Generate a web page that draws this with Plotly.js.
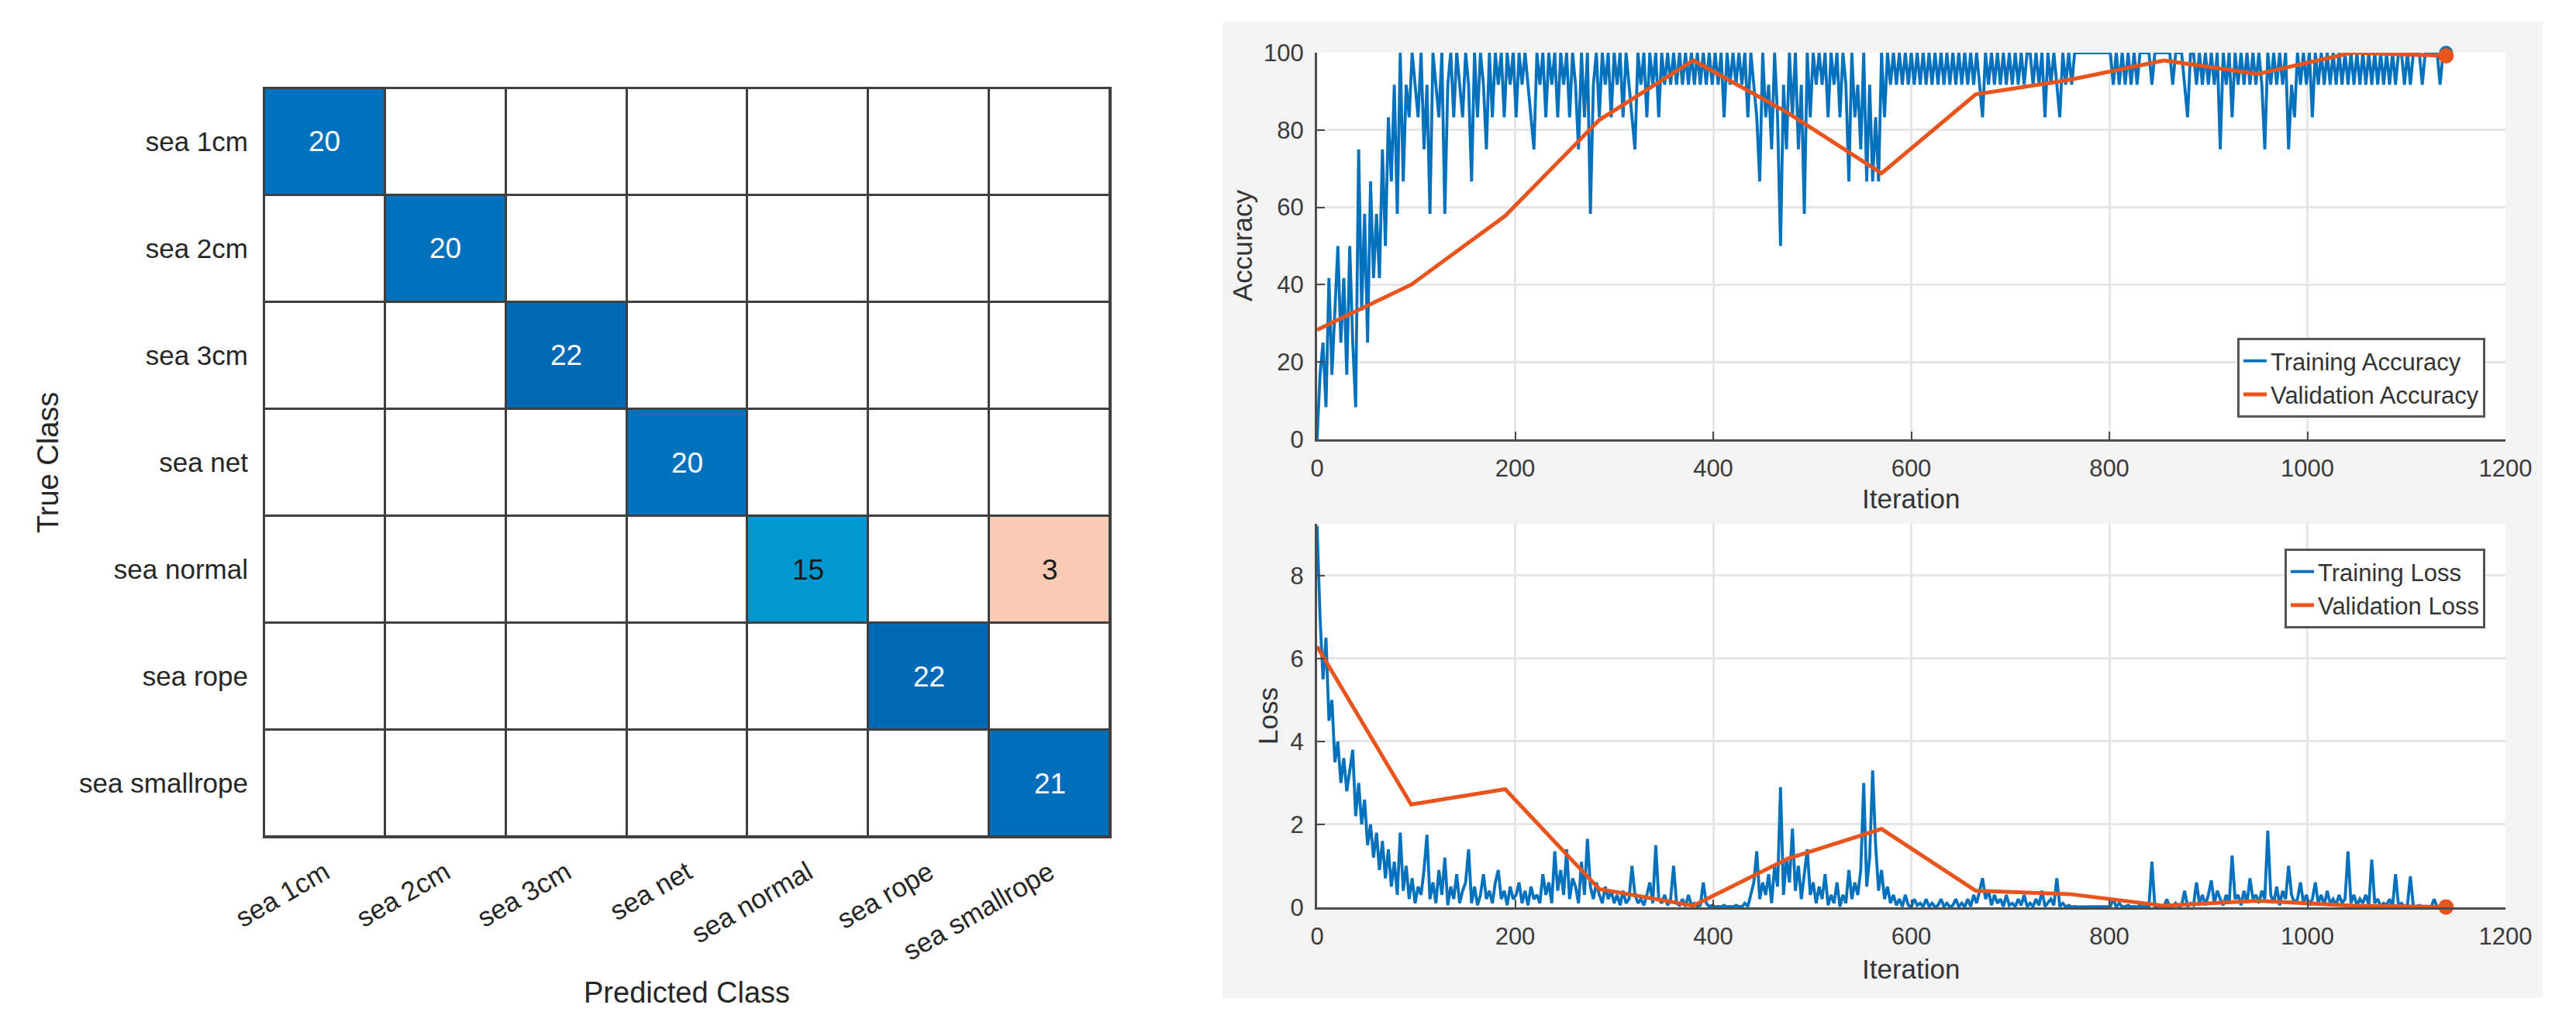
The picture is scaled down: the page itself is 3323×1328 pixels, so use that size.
<!DOCTYPE html>
<html>
<head>
<meta charset="utf-8">
<script src="https://cdn.plot.ly/plotly-3.0.1.min.js"></script>
<style>
  html, body { margin: 0; padding: 0; background: #ffffff; }
  #chart { width: 3323px; height: 1328px; }
</style>
</head>
<body>
<div id="chart"></div>
<script>
// ---------------- DATA ----------------
const classes = ['sea 1cm', 'sea 2cm', 'sea 3cm', 'sea net', 'sea normal', 'sea rope', 'sea smallrope'];
const confusionCounts = [
  [20, 0, 0, 0, 0, 0, 0],
  [0, 20, 0, 0, 0, 0, 0],
  [0, 0, 22, 0, 0, 0, 0],
  [0, 0, 0, 20, 0, 0, 0],
  [0, 0, 0, 0, 15, 0, 3],
  [0, 0, 0, 0, 0, 22, 0],
  [0, 0, 0, 0, 0, 0, 21]
];

// training metrics sampled every 3 iterations (0 ... 1140)
const trainIterStep = 3;
const trainAccuracy = [
  0, 16.7, 25, 8.3, 41.7, 16.7, 33.3, 50, 25, 41.7, 16.7, 50, 25, 8.3, 75, 33.3, 58.3, 25, 66.7, 41.7,
  58.3, 41.7, 75, 50, 83.3, 66.7, 91.7, 58.3, 100, 66.7, 91.7, 83.3, 100, 91.7, 83.3, 100, 75, 91.7, 58.3, 100,
  91.7, 83.3, 100, 58.3, 91.7, 100, 83.3, 100, 91.7, 83.3, 100, 91.7, 66.7, 100, 83.3, 100, 91.7, 75, 100, 83.3,
  100, 91.7, 100, 83.3, 100, 91.7, 100, 83.3, 100, 91.7, 100, 91.7, 83.3, 75, 100, 91.7, 100, 83.3, 100, 91.7,
  100, 83.3, 100, 91.7, 100, 83.3, 100, 91.7, 75, 100, 83.3, 100, 58.3, 91.7, 100, 83.3, 100, 91.7, 100, 83.3,
  100, 91.7, 100, 83.3, 100, 91.7, 83.3, 75, 100, 91.7, 100, 83.3, 100, 91.7, 100, 83.3, 100, 91.7, 100, 91.7,
  100, 91.7, 100, 91.7, 100, 91.7, 100, 91.7, 100, 91.7, 100, 91.7, 100, 91.7, 100, 91.7, 100, 83.3, 100, 91.7,
  100, 91.7, 100, 91.7, 100, 83.3, 100, 91.7, 83.3, 66.7, 100, 83.3, 91.7, 75, 100, 83.3, 50, 91.7, 75, 100,
  83.3, 100, 75, 91.7, 58.3, 100, 83.3, 100, 91.7, 100, 91.7, 100, 83.3, 100, 91.7, 100, 83.3, 100, 91.7, 66.7,
  100, 83.3, 91.7, 75, 100, 66.7, 91.7, 66.7, 83.3, 66.7, 100, 83.3, 100, 91.7, 100, 91.7, 100, 91.7, 100, 91.7,
  100, 91.7, 100, 91.7, 100, 91.7, 100, 91.7, 100, 91.7, 100, 91.7, 100, 91.7, 100, 91.7, 100, 91.7, 100, 91.7,
  100, 91.7, 100, 91.7, 83.3, 100, 91.7, 100, 91.7, 100, 91.7, 100, 91.7, 100, 91.7, 100, 91.7, 100, 91.7, 100,
  100, 91.7, 100, 91.7, 100, 83.3, 100, 91.7, 100, 91.7, 83.3, 100, 91.7, 100, 91.7, 100, 100, 100, 100, 100,
  100, 100, 100, 100, 100, 100, 100, 100, 91.7, 100, 91.7, 100, 91.7, 100, 91.7, 100, 91.7, 100, 100, 100,
  100, 91.7, 100, 100, 100, 100, 100, 100, 91.7, 100, 100, 100, 91.7, 83.3, 100, 100, 91.7, 100, 91.7, 100,
  91.7, 100, 91.7, 100, 75, 100, 91.7, 100, 83.3, 100, 91.7, 100, 91.7, 100, 91.7, 100, 91.7, 100, 91.7, 75,
  100, 91.7, 100, 91.7, 100, 91.7, 100, 75, 91.7, 83.3, 100, 91.7, 100, 91.7, 100, 83.3, 100, 91.7, 100, 91.7,
  100, 91.7, 100, 91.7, 100, 91.7, 100, 91.7, 100, 91.7, 100, 91.7, 100, 91.7, 100, 91.7, 100, 91.7, 100, 91.7,
  100, 91.7, 100, 91.7, 100, 100, 91.7, 100, 91.7, 100, 100, 100, 91.7, 100, 100, 100, 100, 100, 91.7, 100,
  100
];
const trainLoss = [
  9.2, 7.0, 5.5, 6.5, 4.5, 5.0, 3.5, 4.0, 3.0, 3.6, 2.8, 3.3, 3.8, 2.2, 3.0, 2.0, 2.6, 1.5, 2.0, 1.2,
  1.8, 0.9, 1.6, 0.7, 1.4, 0.5, 1.1, 0.3, 1.8, 0.4, 1.0, 0.2, 0.7, 0.1, 0.5, 0.3, 0.9, 1.75, 0.2, 0.6,
  0.1, 0.9, 0.3, 1.2, 0.05, 0.5, 0.2, 0.8, 0.1, 0.4, 0.6, 1.4, 0.1, 0.5, 0.05, 0.3, 0.8, 0.2, 0.4, 0.1,
  0.6, 0.9, 0.2, 0.4, 0.05, 0.5, 0.2, 0.3, 0.6, 0.1, 0.4, 0.05, 0.5, 0.2, 0.3, 0.1, 0.8, 0.3, 0.6, 0.1,
  1.35, 0.4, 0.9, 0.3, 1.4, 0.2, 0.7, 0.5, 0.1, 1.1, 0.3, 1.65, 0.5, 0.2, 0.6, 0.3, 0.1, 0.5, 0.2, 0.4,
  0.1, 0.3, 0.05, 0.4, 0.1, 0.2, 1.0, 0.3, 0.1, 0.2, 0.05, 0.3, 0.6, 0.1, 1.5, 0.2, 0.1, 0.3, 0.05, 0.2,
  1.0, 0.1, 0.05, 0.2, 0.02, 0.3, 0.05, 0.1, 0.02, 0.05, 0.6, 0.1, 0.02, 0.05, 0.01, 0.02, 0.01, 0.05, 0.01, 0.02,
  0.01, 0.05, 0.02, 0.01, 0.1, 0.02, 0.3, 0.6, 1.35, 0.2, 0.6, 0.3, 0.8, 0.1, 1.0, 0.5, 2.9, 0.3, 1.2, 0.6,
  1.9, 0.4, 1.0, 0.2, 0.8, 1.4, 0.3, 0.6, 0.1, 0.5, 0.2, 0.8, 0.05, 0.3, 0.1, 0.6, 0.02, 0.3, 0.1, 0.9,
  0.2, 0.6, 0.3, 0.9, 3.0, 0.5, 1.2, 3.3, 1.5, 0.4, 0.9, 0.2, 0.5, 0.1, 0.3, 0.05, 0.2, 0.02, 0.3, 0.05,
  0.01, 0.2, 0.05, 0.1, 0.01, 0.2, 0.02, 0.1, 0.01, 0.05, 0.2, 0.02, 0.1, 0.01, 0.05, 0.2, 0.02, 0.1, 0.01, 0.2,
  0.02, 0.3, 0.1, 0.4, 0.7, 0.2, 0.4, 0.05, 0.3, 0.1, 0.2, 0.02, 0.3, 0.05, 0.1, 0.02, 0.2, 0.05, 0.3, 0.02,
  0.1, 0.02, 0.2, 0.05, 0.4, 0.02, 0.1, 0.2, 0.05, 0.7, 0.02, 0.1, 0.01, 0.05, 0.01, 0.02, 0.01, 0.01, 0.02, 0.01,
  0.01, 0.02, 0.01, 0.01, 0.02, 0.01, 0.01, 0.02, 0.2, 0.01, 0.1, 0.01, 0.02, 0.05, 0.01, 0.02, 0.01, 0.05, 0.01, 0.02,
  0.01, 1.1, 0.02, 0.01, 0.02, 0.01, 0.2, 0.01, 0.02, 0.1, 0.01, 0.05, 0.4, 0.02, 0.1, 0.05, 0.6, 0.1, 0.3, 0.05,
  0.3, 0.65, 0.1, 0.4, 0.2, 0.05, 0.3, 0.1, 1.25, 0.2, 0.3, 0.05, 0.4, 0.1, 0.7, 0.2, 0.3, 0.1, 0.4, 0.2,
  1.85, 0.3, 0.1, 0.5, 0.05, 0.4, 0.2, 1.0, 0.3, 0.1, 0.2, 0.6, 0.1, 0.3, 0.05, 0.2, 0.6, 0.1, 0.3, 0.05,
  0.4, 0.1, 0.2, 0.05, 0.3, 0.1, 0.2, 1.35, 0.1, 0.3, 0.05, 0.2, 0.1, 0.3, 0.05, 1.15, 0.1, 0.2, 0.02, 0.1,
  0.05, 0.2, 0.02, 0.8, 0.05, 0.1, 0.02, 0.05, 0.75, 0.02, 0.01, 0.05, 0.02, 0.01, 0.02, 0.01, 0.2, 0.01, 0.02, 0.01,
  0.02
];

const valIterations = [0, 95, 190, 285, 380, 475, 570, 665, 760, 855, 950, 1045, 1140];
const valAccuracy = [28.3, 40, 57.8, 82.6, 98, 84.5, 68.8, 89.2, 93, 98, 94.5, 100, 99.2];
const valLoss = [6.29, 2.48, 2.85, 0.44, 0.04, 1.17, 1.89, 0.40, 0.32, 0.04, 0.16, 0.04, 0.01];

const xTicks = [0, 200, 400, 600, 800, 1000, 1200];
const accTicks = [0, 20, 40, 60, 80, 100];
const lossTicks = [0, 2, 4, 6, 8];

// ---------------- BUILD ----------------
const FONT = 'Liberation Sans, Arial, Helvetica, sans-serif';
const BLUE = '#0072BD';
const ORANGE = '#E8541C';

const trainIter = trainAccuracy.map((_, i) => i * trainIterStep);
const trainIterLoss = trainLoss.map((_, i) => i * trainIterStep);

const n = classes.length;
const offDiag = confusionCounts.map((row, i) => row.map((v, j) => (i === j ? 0 : v)));
const diag = confusionCounts.map((row, i) => row.map((v, j) => (i === j ? v : null)));

const traces = [
  {
    type: 'heatmap', x: classes, y: classes, z: offDiag, xaxis: 'x', yaxis: 'y',
    zmin: 0, zmax: 3, colorscale: [[0, '#ffffff'], [1, '#F9CAB4']],
    showscale: false, xgap: 3, ygap: 3, hoverinfo: 'skip'
  },
  {
    type: 'heatmap', x: classes, y: classes, z: diag, xaxis: 'x', yaxis: 'y',
    zmin: 0, zmax: 22,
    colorscale: [[0, '#ffffff'], [15 / 22, '#0096CF'], [20 / 22, '#0072BD'], [1, '#006AB7']],
    showscale: false, xgap: 3, ygap: 3, hoverinfo: 'skip'
  },
  {
    type: 'scatter', mode: 'lines', x: trainIter, y: trainAccuracy, xaxis: 'x2', yaxis: 'y2',
    name: 'Training Accuracy', legend: 'legend', line: { color: BLUE, width: 3.8 }
  },
  {
    type: 'scatter', mode: 'lines', x: valIterations, y: valAccuracy, xaxis: 'x2', yaxis: 'y2',
    name: 'Validation Accuracy', legend: 'legend', line: { color: ORANGE, width: 5 }
  },
  {
    type: 'scatter', mode: 'markers', x: [trainIter[trainIter.length - 1]], y: [trainAccuracy[trainAccuracy.length - 1]],
    xaxis: 'x2', yaxis: 'y2', showlegend: false, cliponaxis: false,
    marker: { color: BLUE, size: 18 }
  },
  {
    type: 'scatter', mode: 'markers', x: [valIterations[valIterations.length - 1]], y: [valAccuracy[valAccuracy.length - 1]],
    xaxis: 'x2', yaxis: 'y2', showlegend: false, cliponaxis: false,
    marker: { color: ORANGE, size: 20 }
  },
  {
    type: 'scatter', mode: 'lines', x: trainIterLoss, y: trainLoss, xaxis: 'x3', yaxis: 'y3',
    name: 'Training Loss', legend: 'legend2', line: { color: BLUE, width: 3.8 }
  },
  {
    type: 'scatter', mode: 'lines', x: valIterations, y: valLoss, xaxis: 'x3', yaxis: 'y3',
    name: 'Validation Loss', legend: 'legend2', line: { color: ORANGE, width: 5 }
  },
  {
    type: 'scatter', mode: 'markers', x: [trainIterLoss[trainIterLoss.length - 1]], y: [trainLoss[trainLoss.length - 1]],
    xaxis: 'x3', yaxis: 'y3', showlegend: false, cliponaxis: false,
    marker: { color: BLUE, size: 18 }
  },
  {
    type: 'scatter', mode: 'markers', x: [valIterations[valIterations.length - 1]], y: [valLoss[valLoss.length - 1]],
    xaxis: 'x3', yaxis: 'y3', showlegend: false, cliponaxis: false,
    marker: { color: ORANGE, size: 20 }
  }
];

// cell count labels
const annotations = [];
for (let i = 0; i < n; i++) {
  for (let j = 0; j < n; j++) {
    const v = confusionCounts[i][j];
    if (v > 0) {
      annotations.push({
        x: classes[j], y: classes[i], xref: 'x', yref: 'y', text: String(v), showarrow: false,
        font: { family: FONT, size: 37, color: (i === j && v >= 20) ? '#ffffff' : '#1a1a1a' }
      });
    }
  }
}
// axis titles
const titleFont = { family: FONT, size: 38, color: '#262626' };
const smallTitleFont = { family: FONT, size: 35, color: '#333333' };
annotations.push(
  { xref: 'paper', yref: 'paper', x: 886 / 3323, y: 1 - 1281 / 1328, text: 'Predicted Class', showarrow: false, font: titleFont, xanchor: 'center', yanchor: 'middle' },
  { xref: 'paper', yref: 'paper', x: 62 / 3323, y: 1 - 597 / 1328, text: 'True Class', showarrow: false, font: titleFont, textangle: -90, xanchor: 'center', yanchor: 'middle' },
  { xref: 'paper', yref: 'paper', x: 1603 / 3323, y: 1 - 317 / 1328, text: 'Accuracy', showarrow: false, font: smallTitleFont, textangle: -90, xanchor: 'center', yanchor: 'middle' },
  { xref: 'paper', yref: 'paper', x: 2465 / 3323, y: 1 - 643 / 1328, text: 'Iteration', showarrow: false, font: smallTitleFont, xanchor: 'center', yanchor: 'middle' },
  { xref: 'paper', yref: 'paper', x: 1635 / 3323, y: 1 - 924 / 1328, text: 'Loss', showarrow: false, font: smallTitleFont, textangle: -90, xanchor: 'center', yanchor: 'middle' },
  { xref: 'paper', yref: 'paper', x: 2465 / 3323, y: 1 - 1250 / 1328, text: 'Iteration', showarrow: false, font: smallTitleFont, xanchor: 'center', yanchor: 'middle' }
);

const metricX = {
  range: [0, 1200], tickmode: 'array', tickvals: xTicks, ticks: 'inside', ticklen: 10, tickwidth: 2,
  tickcolor: '#4a4a4a', showline: true, linecolor: '#4d4d4d', linewidth: 3, mirror: false,
  showgrid: true, gridcolor: '#e6e6e6', gridwidth: 3, zeroline: false, automargin: false,
  tickfont: { family: FONT, size: 31, color: '#3a3a3a' }, ticklabelstandoff: 8, fixedrange: true
};
const metricY = {
  ticks: 'inside', ticklen: 10, tickwidth: 2, tickcolor: '#4a4a4a', showline: true,
  linecolor: '#4d4d4d', linewidth: 3, mirror: false, showgrid: true, gridcolor: '#e6e6e6',
  gridwidth: 3, zeroline: false, automargin: false,
  tickfont: { family: FONT, size: 31, color: '#3a3a3a' }, ticklabelstandoff: 8, fixedrange: true
};

const legendBase = {
  xanchor: 'right', bgcolor: '#ffffff', bordercolor: '#555555', borderwidth: 3,
  font: { family: FONT, size: 31, color: '#333333' }, tracegroupgap: 0
};

const layout = {
  width: 3323, height: 1328,
  margin: { l: 0, r: 0, t: 0, b: 0, pad: 0 },
  paper_bgcolor: '#ffffff', plot_bgcolor: 'rgba(0,0,0,0)',
  font: { family: FONT, color: '#262626' },
  xaxis: {
    domain: [341 / 3323, 1432 / 3323], anchor: 'y', type: 'category', tickangle: -30,
    tickfont: { family: FONT, size: 35, color: '#262626' }, showgrid: false, zeroline: false,
    showline: true, mirror: true, linecolor: '#3f3f3f', linewidth: 2, ticks: '',
    ticklabelstandoff: 10, automargin: false, fixedrange: true
  },
  yaxis: {
    domain: [1 - 1080 / 1328, 1 - 114 / 1328], anchor: 'x', type: 'category', autorange: 'reversed',
    tickfont: { family: FONT, size: 35, color: '#262626' }, showgrid: false, zeroline: false,
    showline: true, mirror: true, linecolor: '#3f3f3f', linewidth: 2, ticks: '',
    ticklabelstandoff: 12, automargin: false, fixedrange: true
  },
  xaxis2: Object.assign({}, metricX, { domain: [1699 / 3323, 3232 / 3323], anchor: 'y2' }),
  yaxis2: Object.assign({}, metricY, { domain: [1 - 567 / 1328, 1 - 68 / 1328], anchor: 'x2', range: [0, 100], tickmode: 'array', tickvals: accTicks }),
  xaxis3: Object.assign({}, metricX, { domain: [1699 / 3323, 3232 / 3323], anchor: 'y3' }),
  yaxis3: Object.assign({}, metricY, { domain: [1 - 1171 / 1328, 1 - 676 / 1328], anchor: 'x3', range: [0, 9.25], tickmode: 'array', tickvals: lossTicks }),
  showlegend: true,
  legend: Object.assign({}, legendBase, { x: 3206 / 3323, y: 1 - 539 / 1328, yanchor: 'bottom' }),
  legend2: Object.assign({}, legendBase, { x: 3206 / 3323, y: 1 - 708 / 1328, yanchor: 'top' }),
  shapes: [
    { type: 'rect', xref: 'paper', yref: 'paper', x0: 1577 / 3323, x1: 3280 / 3323, y0: 1 - 1288 / 1328, y1: 1 - 28 / 1328, fillcolor: '#f3f3f3', line: { width: 0 }, layer: 'below' },
    { type: 'rect', xref: 'x2 domain', yref: 'y2 domain', x0: 0, x1: 1, y0: 0, y1: 1, fillcolor: '#ffffff', line: { width: 0 }, layer: 'below' },
    { type: 'rect', xref: 'x3 domain', yref: 'y3 domain', x0: 0, x1: 1, y0: 0, y1: 1, fillcolor: '#ffffff', line: { width: 0 }, layer: 'below' },
    { type: 'rect', xref: 'x domain', yref: 'y domain', x0: 0, x1: 1, y0: 0, y1: 1, fillcolor: '#3f3f3f', line: { width: 0 }, layer: 'below' }
  ],
  annotations: annotations
};

Plotly.newPlot('chart', traces, layout, { staticPlot: true, displayModeBar: false });
</script>
</body>
</html>
